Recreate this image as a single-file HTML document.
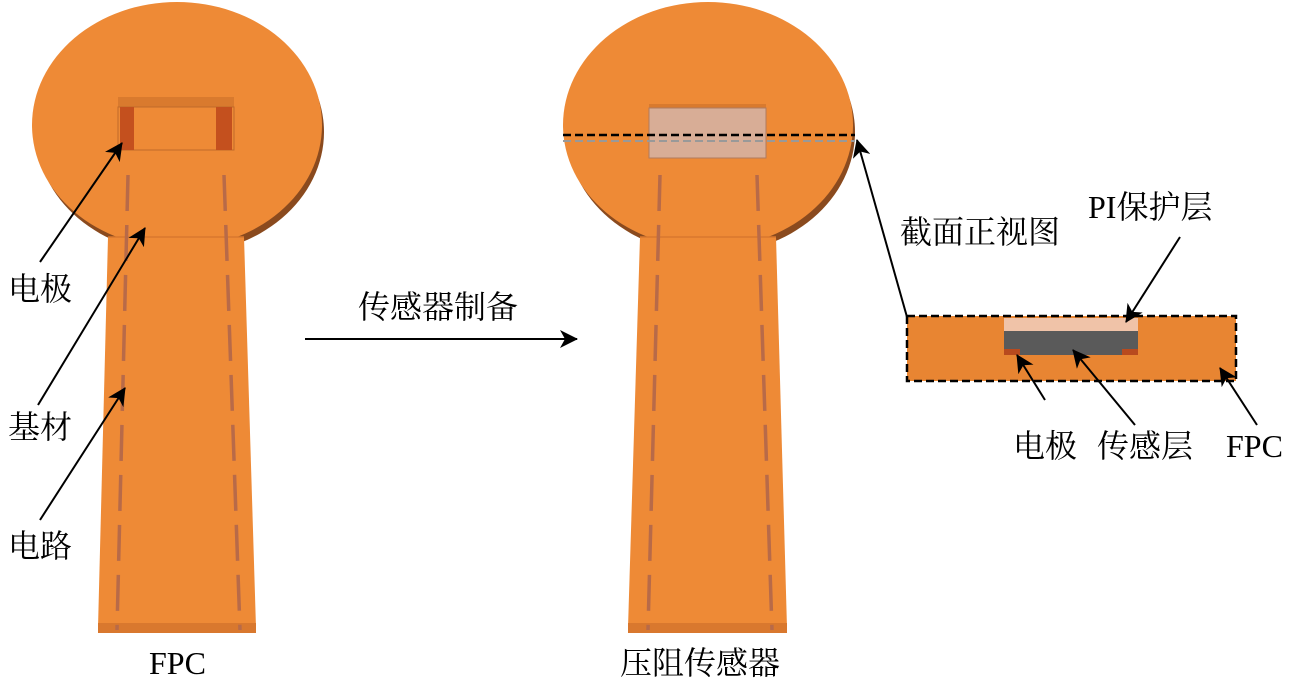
<!DOCTYPE html>
<html><head><meta charset="utf-8"><style>
html,body{margin:0;padding:0;background:#fff;width:1291px;height:684px;overflow:hidden}
svg text{font-family:"Liberation Serif","Noto Serif CJK SC","Noto Sans CJK SC",serif;font-size:32px;fill:#000}
</style></head><body>
<svg width="1291" height="684" viewBox="0 0 1291 684" xmlns="http://www.w3.org/2000/svg">
<defs>
<marker id="ah2" markerWidth="18" markerHeight="18" refX="17" refY="9" orient="auto" markerUnits="userSpaceOnUse">
<path d="M0,0 L18,9 L0,18 L5,9 z" fill="#000"/></marker>
</defs>

<!-- LEFT FPC -->
<ellipse cx="180" cy="132" rx="144" ry="122" fill="#8a4a1e"/>
<ellipse cx="177" cy="125" rx="145" ry="123" fill="#ee8a36"/>
<polygon points="108,237 244,237 256,628 98,628" fill="#ee8a36"/>
<line x1="108" y1="237" x2="244" y2="237" stroke="#d8782e" stroke-width="1.5"/>
<rect x="98" y="623" width="158" height="10" fill="#d9782e"/>
<rect x="118" y="97" width="116" height="10" fill="#d97a2e"/>
<rect x="118" y="107" width="116" height="43" fill="#ee8a36" stroke="#c06a2a" stroke-width="1"/>
<rect x="120" y="107" width="14" height="43" fill="#c4501e"/>
<rect x="216" y="107" width="16" height="43" fill="#c4501e"/>
<line x1="128" y1="175" x2="117" y2="630" stroke="#b86a48" stroke-width="3.5" stroke-dasharray="36 14"/>
<line x1="224" y1="175" x2="240" y2="630" stroke="#b86a48" stroke-width="3.5" stroke-dasharray="36 14"/>

<!-- MIDDLE SENSOR -->
<ellipse cx="711" cy="132" rx="144" ry="122" fill="#8a4a1e"/>
<ellipse cx="708" cy="125" rx="145" ry="123" fill="#ee8a36"/>
<polygon points="640,237 776,237 787,628 628,628" fill="#ee8a36"/>
<line x1="640" y1="237" x2="776" y2="237" stroke="#d8782e" stroke-width="1.5"/>
<rect x="628" y="623" width="159" height="10" fill="#d9782e"/>
<rect x="649" y="104" width="117" height="5" fill="#d97a2e"/>
<rect x="649" y="108" width="117" height="50" fill="#d8ad96" stroke="#b07a5e" stroke-width="1"/>
<line x1="660" y1="175" x2="648" y2="630" stroke="#b86a48" stroke-width="3.5" stroke-dasharray="36 14"/>
<line x1="757" y1="175" x2="772" y2="630" stroke="#b86a48" stroke-width="3.5" stroke-dasharray="36 14"/>
<line x1="563" y1="141" x2="855" y2="141" stroke="#999" stroke-width="2" stroke-dasharray="8 4"/>
<line x1="563" y1="135" x2="855" y2="135" stroke="#000" stroke-width="2.5" stroke-dasharray="8 4"/>

<!-- process arrow -->
<line x1="305" y1="339" x2="577" y2="339" stroke="#000" stroke-width="2" marker-end="url(#ah2)"/>
<text x="358" y="318">传感器制备</text>

<!-- section view arrow -->
<line x1="907" y1="317" x2="857" y2="140" stroke="#000" stroke-width="2" marker-end="url(#ah2)"/>
<text x="900" y="243">截面正视图</text>

<!-- cross section -->
<rect x="907" y="316" width="329" height="65" fill="#e88532" stroke="#000" stroke-width="2.5" stroke-dasharray="8 4"/>
<rect x="1004" y="318" width="134" height="13" fill="#f0c3a8"/>
<rect x="1004" y="331" width="134" height="24" fill="#5a5a5a"/>
<rect x="1004" y="349" width="16" height="6" fill="#b84a1e"/>
<rect x="1122" y="349" width="16" height="6" fill="#b84a1e"/>

<text x="1088" y="218">PI保护层</text>
<line x1="1180" y1="237" x2="1126" y2="322" stroke="#000" stroke-width="2" marker-end="url(#ah2)"/>
<text x="1013" y="457">电极</text>
<line x1="1045" y1="400" x2="1017" y2="355" stroke="#000" stroke-width="2" marker-end="url(#ah2)"/>
<text x="1097" y="457">传感层</text>
<line x1="1135" y1="425" x2="1073" y2="350" stroke="#000" stroke-width="2" marker-end="url(#ah2)"/>
<text x="1226" y="457">FPC</text>
<line x1="1257" y1="425" x2="1220" y2="368" stroke="#000" stroke-width="2" marker-end="url(#ah2)"/>

<!-- left labels -->
<text x="8" y="300">电极</text>
<line x1="40" y1="262" x2="122" y2="143" stroke="#000" stroke-width="2" marker-end="url(#ah2)"/>
<text x="8" y="438">基材</text>
<line x1="38" y1="405" x2="145" y2="228" stroke="#000" stroke-width="2" marker-end="url(#ah2)"/>
<text x="8" y="557">电路</text>
<line x1="40" y1="520" x2="125" y2="388" stroke="#000" stroke-width="2" marker-end="url(#ah2)"/>

<text x="149" y="674">FPC</text>
<text x="620" y="674">压阻传感器</text>
</svg>
</body></html>
